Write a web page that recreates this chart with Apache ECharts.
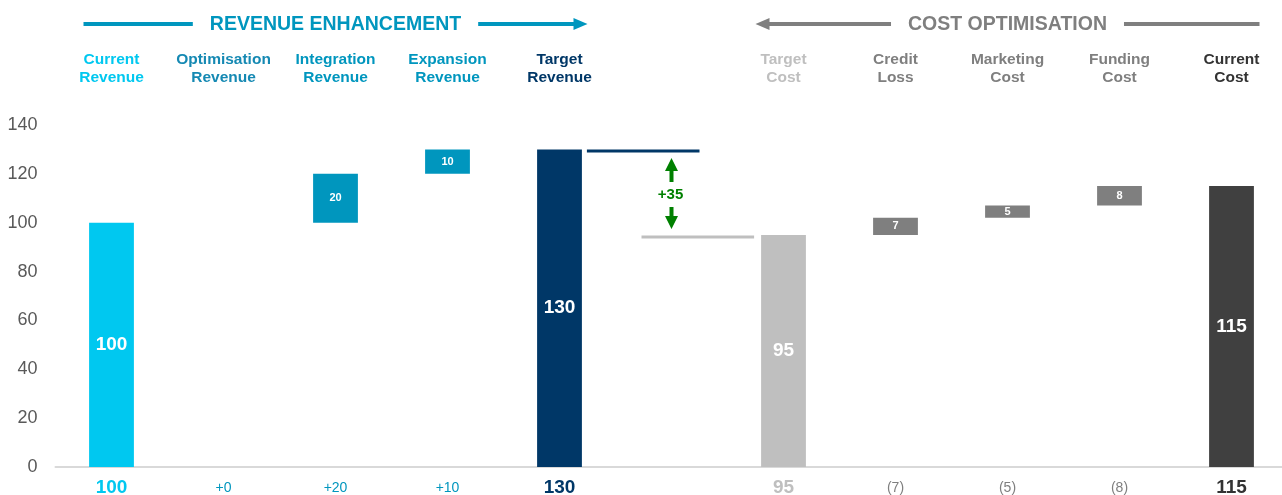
<!DOCTYPE html>
<html>
<head>
<meta charset="utf-8">
<script src="https://cdn.jsdelivr.net/npm/echarts@6/dist/echarts.min.js"></script>
<style>
  html, body { margin: 0; padding: 0; background: #ffffff; }
  #chart { width: 1282px; height: 495px; }
</style>
</head>
<body>
<div id="chart"></div>
<script>
// ---- data ----
const categories = ['Current Revenue', 'Optimisation Revenue', 'Integration Revenue', 'Expansion Revenue', 'Target Revenue', '',
                    'Target Cost', 'Credit Loss', 'Marketing Cost', 'Funding Cost', 'Current Cost'];
const amounts = [100, 0, 20, 10, 130, null, 95, 7, 5, 8, 115];
const kinds = ['total', 'gain', 'gain', 'gain', 'total', 'gap', 'total', 'cost', 'cost', 'cost', 'total'];
const sectionTitles = ['REVENUE ENHANCEMENT', 'COST OPTIMISATION'];
const yMin = 0, yMax = 140, yStep = 20;

// ---- styling ----
const FONT = '"Liberation Sans", Arial, Helvetica, sans-serif';
const barColors  = ['#00c8f0', '#0096be', '#0096be', '#0096be', '#003767', 'transparent', '#bfbfbf', '#7f7f7f', '#7f7f7f', '#7f7f7f', '#404040'];
const headColors = ['#00c8f0', '#1589b3', '#0096be', '#0096be', '#003767', '#ffffff', '#bfbfbf', '#7f7f7f', '#7f7f7f', '#7f7f7f', '#333333'];
const footColors = ['#00c8f0', '#0096be', '#0096be', '#0096be', '#003767', '#ffffff', '#bfbfbf', '#7f7f7f', '#7f7f7f', '#7f7f7f', '#333333'];
const revColor = '#0096be', costColor = '#7f7f7f', gainGreen = '#008000';

// ---- waterfall layout: invisible base + visible step ----
const bases = [], steps = [], footLabels = [];
let running = 0;
amounts.forEach((v, i) => {
  const k = kinds[i];
  if (k === 'gap') { bases.push(null); steps.push(null); footLabels.push(''); return; }
  if (k === 'total') { bases.push(0); running = v; footLabels.push(String(v)); }
  else { bases.push(running); running += v; footLabels.push(k === 'gain' ? '+' + v : '(' + v + ')'); }
  const isTotal = k === 'total';
  steps.push({
    value: v,
    itemStyle: { color: barColors[i] },
    label: {
      show: v !== 0,
      fontSize: isTotal ? 19 : 11,
      fontWeight: 'bold',
      color: '#ffffff',
      fontFamily: FONT
    }
  });
});

const footRich = {};
categories.forEach((c, i) => {
  const isTotal = kinds[i] === 'total';
  footRich['f' + i] = {
    color: footColors[i],
    fontWeight: isTotal ? 'bold' : 'normal',
    fontSize: isTotal ? 19 : 14,
    lineHeight: 22,
    fontFamily: FONT
  };
});

// connector between the two totals around the empty slot
const gapIndex = kinds.indexOf('gap');
const gapData = [[gapIndex, amounts[gapIndex - 1], amounts[gapIndex + 1]]];

const chart = echarts.init(document.getElementById('chart'), null, { renderer: 'canvas' });

const option = {
  animation: false,
  backgroundColor: '#ffffff',
  textStyle: { fontFamily: FONT },
  grid: { left: 55.5, right: -5.5, top: 125, bottom: 28, containLabel: false, outerBoundsMode: 'none' },
  xAxis: [
    {
      type: 'category',
      data: categories,
      position: 'bottom',
      axisTick: { show: false },
      axisLine: { lineStyle: { color: '#d9d9d9', width: 2 } },
      axisLabel: {
        interval: 0,
        margin: 10,
        formatter: (v, i) => footLabels[i] ? '{f' + i + '|' + footLabels[i] + '}' : '',
        rich: footRich
      }
    },
    {
      type: 'category',
      data: categories,
      position: 'top',
      axisTick: { show: false },
      axisLine: { show: false },
      axisLabel: {
        interval: 0,
        margin: 38,
        fontSize: 15.5,
        fontWeight: 'bold',
        lineHeight: 18,
        fontFamily: FONT,
        color: (v, i) => headColors[i],
        formatter: v => v.replace(' ', '\n')
      }
    }
  ],
  yAxis: {
    type: 'value',
    min: yMin,
    max: yMax,
    interval: yStep,
    axisLine: { show: false },
    axisTick: { show: false },
    splitLine: { show: false },
    axisLabel: { fontSize: 18, color: '#595959', margin: 18, fontFamily: FONT }
  },
  series: [
    {
      type: 'bar',
      stack: 'wf',
      barWidth: '40%',
      silent: true,
      itemStyle: { color: 'transparent' },
      data: bases
    },
    {
      type: 'bar',
      stack: 'wf',
      barWidth: '40%',
      label: { show: true, position: 'inside' },
      data: steps
    },
    {
      type: 'custom',
      xAxisIndex: 0,
      yAxisIndex: 0,
      silent: true,
      clip: false,
      z: 5,
      data: gapData,
      renderItem: (params, api) => {
        const cx = api.coord([api.value(0), 0])[0];
        const band = api.size([1, 0])[0];
        const half = band * 0.2;
        const yHi = api.coord([api.value(0), api.value(1)])[1] + 1.5;
        const yLo = api.coord([api.value(0), api.value(2)])[1] + 2;
        const mid = (yHi + yLo) / 2;
        const diff = api.value(1) - api.value(2);
        const upTip = yHi + 7, upEnd = mid - 12;
        const dnTip = yLo - 8, dnEnd = mid + 13;
        const hl = 13, hw = 6.5, sw = 2;
        return {
          type: 'group',
          children: [
            { type: 'line', shape: { x1: cx - band + half + 5, y1: yHi, x2: cx + band / 4, y2: yHi },
              style: { stroke: '#003767', lineWidth: 3 } },
            { type: 'line', shape: { x1: cx - band / 4 - 2, y1: yLo, x2: cx + band - half - 7, y2: yLo },
              style: { stroke: '#bfbfbf', lineWidth: 3 } },
            { type: 'polygon', shape: { points: [
                [cx, upTip], [cx + hw, upTip + hl], [cx + sw, upTip + hl], [cx + sw, upEnd],
                [cx - sw, upEnd], [cx - sw, upTip + hl], [cx - hw, upTip + hl]] },
              style: { fill: gainGreen } },
            { type: 'polygon', shape: { points: [
                [cx, dnTip], [cx + hw, dnTip - hl], [cx + sw, dnTip - hl], [cx + sw, dnEnd],
                [cx - sw, dnEnd], [cx - sw, dnTip - hl], [cx - hw, dnTip - hl]] },
              style: { fill: gainGreen } },
            { type: 'text', x: cx - 1, y: mid + 1,
              style: { text: '+' + diff, fill: gainGreen, font: 'bold 15px ' + FONT,
                       align: 'center', verticalAlign: 'middle' } }
          ]
        };
      }
    }
  ]
};

chart.setOption(option);

// ---- section headers with directional arrows ----
function textWidth(str, font) {
  const ctx = document.createElement('canvas').getContext('2d');
  ctx.font = font;
  return ctx.measureText(str).width;
}

function sectionHeader(title, firstIdx, lastIdx, color, arrowRight) {
  const x0 = chart.convertToPixel({ xAxisIndex: 0 }, categories[firstIdx]);
  const x1 = chart.convertToPixel({ xAxisIndex: 0 }, categories[lastIdx]);
  const band = (x1 - x0) / (lastIdx - firstIdx);
  const left = x0 - band / 4, right = x1 + band / 4;
  const cx = (x0 + x1) / 2, cy = 24;
  const font = 'bold 19.5px ' + FONT;
  const halfText = textWidth(title, font) / 2 + 17;
  const hl = 14, hh = 6;
  const els = [
    { type: 'text', x: cx, y: cy + 1,
      style: { text: title, font: font, fill: color, align: 'center', verticalAlign: 'middle' } }
  ];
  if (arrowRight) {
    els.push({ type: 'line', shape: { x1: left, y1: cy, x2: cx - halfText, y2: cy }, style: { stroke: color, lineWidth: 4 } });
    els.push({ type: 'line', shape: { x1: cx + halfText, y1: cy, x2: right - hl + 1, y2: cy }, style: { stroke: color, lineWidth: 4 } });
    els.push({ type: 'polygon', shape: { points: [[right, cy], [right - hl, cy - hh], [right - hl, cy + hh]] }, style: { fill: color } });
  } else {
    els.push({ type: 'line', shape: { x1: left + hl - 1, y1: cy, x2: cx - halfText, y2: cy }, style: { stroke: color, lineWidth: 4 } });
    els.push({ type: 'polygon', shape: { points: [[left, cy], [left + hl, cy - hh], [left + hl, cy + hh]] }, style: { fill: color } });
    els.push({ type: 'line', shape: { x1: cx + halfText, y1: cy, x2: right, y2: cy }, style: { stroke: color, lineWidth: 4 } });
  }
  return els;
}

chart.setOption({
  graphic: [].concat(
    sectionHeader(sectionTitles[0], 0, gapIndex - 1, revColor, true),
    sectionHeader(sectionTitles[1], gapIndex + 1, categories.length - 1, costColor, false)
  )
});
</script>
</body>
</html>
